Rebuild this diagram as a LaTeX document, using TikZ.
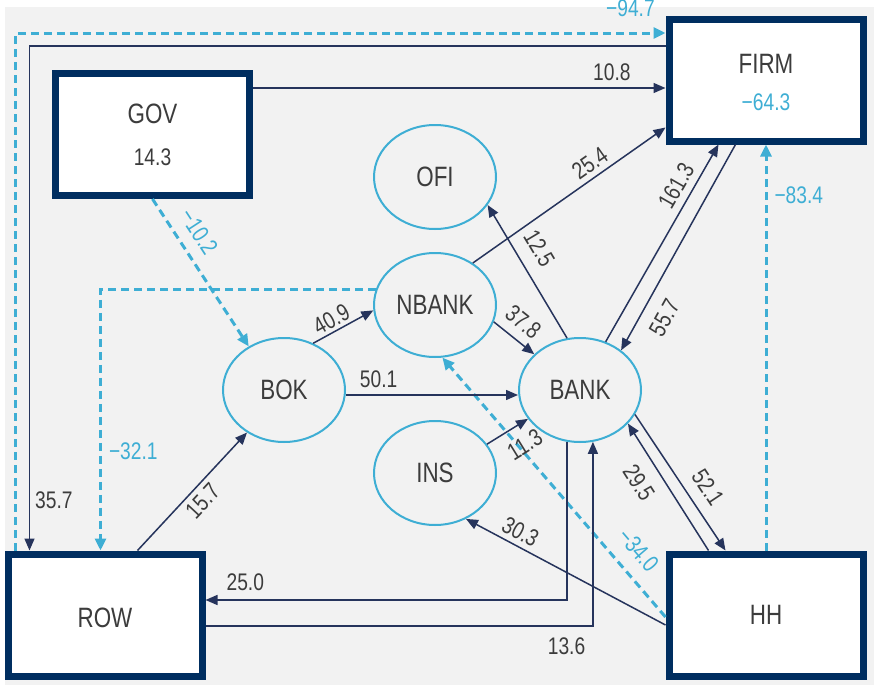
\documentclass[tikz,border=0pt]{standalone}
\usepackage{fontspec}
\setmainfont{Liberation Sans}[FakeStretch=0.8]
\usepackage{xcolor}
\usetikzlibrary{arrows.meta,positioning,shapes,calc}

\definecolor{boxnavy}{RGB}{0,46,96}
\definecolor{linenavy}{RGB}{38,52,92}
\definecolor{flowblue}{RGB}{62,174,212}
\definecolor{labgray}{RGB}{60,60,60}
\definecolor{bggray}{RGB}{242,242,242}

\begin{document}
\begin{tikzpicture}[
  x=0.5pt, y=-0.5pt,
  sector/.style={rectangle, draw=boxnavy, line width=3.5pt, fill=white, minimum width=97pt, minimum height=61pt, inner sep=0pt, align=center, font=\fontsize{14}{17}\selectfont, text=labgray},
  inst/.style={ellipse, draw=flowblue, line width=1pt, minimum width=61pt, minimum height=52pt, inner sep=0pt, font=\fontsize{14}{17}\selectfont, text=labgray},
  flow/.style={draw=linenavy, line width=0.75pt, -{Triangle[length=6pt,width=5pt]}},
  dflow/.style={draw=flowblue, line width=1.5pt, dash pattern=on 4pt off 2.5pt, -{Triangle[length=6pt,width=5.5pt]}},
  lab/.style={font=\fontsize{12}{14}\selectfont, text=labgray, inner sep=1.5pt},
  blab/.style={lab, text=flowblue}
]

\useasboundingbox (0,0) rectangle (874,685);
\fill[bggray] (5,7) rectangle (874,685);

% Sectors
\node[sector] (gov) at (152.5,134.5) {GOV\\[4pt]{\fontsize{12}{14}\selectfont 14.3}};
\node[sector] (firm) at (766,80) {\rule{0pt}{12pt}FIRM\\[1.5pt]{\fontsize{12}{14}\selectfont\textcolor{flowblue}{−64.3}}};
\node[sector] (row) at (105,615) {\rule{0pt}{13pt}ROW};
\node[sector] (hh) at (766,615) {HH};

% Financial institutions
\node[inst] (ofi) at (435,177) {OFI};
\node[inst] (nbank) at (435,305) {NBANK};
\node[inst] (bok) at (284,390) {BOK};
\node[inst] (bank) at (580,390) {BANK};
\node[inst] (ins) at (435,473) {INS};

% Outer loops
\draw[flow] ([yshift=17pt]firm.west) -| node[lab, pos=0.95, right=1pt] (l357) {35.7} ([xshift=12.5pt]row.north west);
\draw[dflow] ([xshift=5.5pt]row.north west) |- node[blab, pos=0.973, above=6pt] (l947) {−94.7} ([yshift=23.5pt]firm.west);
\draw[flow] ([yshift=23.25pt]gov.east) -- node[lab, pos=0.87, above=2pt] (l108) {10.8} ([yshift=23.25pt]gov.east -| firm.west);

% Dashed flows
\draw[dflow] (gov.south) -- node[blab, sloped, above=4pt, pos=0.3] (l102) {−10.2} (bok.129);
\draw[dflow] (nbank.165) -| node[blab, pos=0.81, right=2pt] (l321) {−32.1} ([xshift=48pt]row.north west);
\draw[dflow] ([yshift=-1pt]hh.west) -- node[blab, sloped, above=5pt, pos=0.2] (l340) {−34.0} (nbank.-82);
\draw[dflow] (hh.north) -- node[blab, pos=0.874, right=2pt] (l834) {−83.4} (firm.south);

% Bank of Korea
\draw[flow] (bok.58) -- node[lab, sloped, above, pos=0.4] (l409) {40.9} (nbank.185);
\draw[flow] ([yshift=-2.5pt]bok.east) -- node[lab, pos=0.19, above=2pt] (l501) {50.1} ([yshift=-2.5pt]bank.west);
\draw[flow] ([xshift=66.5pt]row.north west) -- node[lab, sloped, below=1pt, pos=0.5] (l157) {15.7} (bok.229);

% Banks and other institutions
\draw[flow] (nbank.-16) -- node[lab, sloped, above=3pt, pos=0.45] (l378) {37.8} (bank.142);
\draw[flow] (nbank.48) -- node[lab, sloped, above=1pt, pos=0.65] (l254) {25.4} ([yshift=8.5pt]firm.south west);
\draw[flow] (bank.104) -- node[lab, sloped, above=5pt, pos=0.59] (l125) {12.5} (ofi.-28);
\draw[flow] (bank.62) -- node[lab, sloped, above=2pt, pos=0.75] (l1613) {161.3} ([xshift=26.5pt]firm.south west);
\draw[flow] ([xshift=35pt]firm.south west) -- node[lab, sloped, below=5pt, pos=0.79] (l557) {55.7} (bank.44);
\draw[flow] (ins.29) -- node[lab, sloped, below=4pt, pos=0.66] (l113) {11.3} (bank.209);

% Households
\draw[flow] (bank.-24) -- node[lab, sloped, above=4pt, pos=0.62] (l521) {52.1} ([xshift=30pt]hh.north west);
\draw[flow] ([xshift=21.5pt]hh.north west) -- node[lab, sloped, below=5pt, pos=0.63] (l295) {29.5} (bank.-35);
\draw[flow] ([yshift=-5pt]hh.west) -- node[lab, sloped, above=1pt, pos=0.76] (l303) {30.3} (ins.-56);

% Rest of the world
\draw[flow] (bank.256) |- node[lab, pos=0.945, above=3pt] (l250) {25.0} ([yshift=7.5pt]row.east);
\draw[flow] ([yshift=-5.5pt]row.east) -| node[lab, pos=0.466, below=4pt] (l136) {13.6} (bank.284);

\end{tikzpicture}
\end{document}
